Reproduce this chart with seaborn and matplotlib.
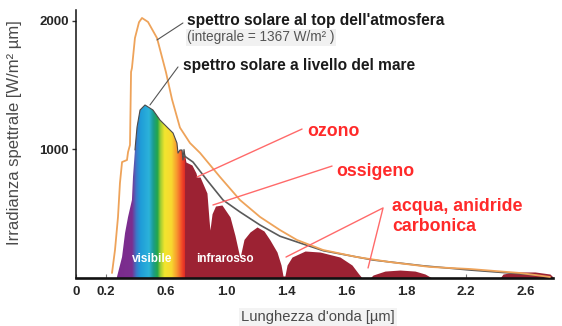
import numpy as np
import pandas as pd
import matplotlib
matplotlib.use("Agg")
import matplotlib.pyplot as plt
from matplotlib.colors import LinearSegmentedColormap
import seaborn as sns

# Top-of-atmosphere solar spectrum (wavelength in µm, irradiance in W/m² µm)
toa_wl = [0.24, 0.26, 0.28, 0.293, 0.307, 0.34, 0.347, 0.36, 0.367, 0.373, 0.393,
          0.42, 0.44, 0.48, 0.54, 0.60, 0.64, 0.693, 0.76, 0.827, 0.96, 1.093,
          1.227, 1.36, 1.473, 1.647, 1.873, 2.093, 2.36, 2.627, 2.96, 3.16]
toa_irr = [39, 218, 475, 739, 902, 918, 980, 1035, 1603, 1634, 1867,
           1990, 2023, 1992, 1867, 1600, 1390, 1170, 1050, 973, 786, 607,
           475, 373, 296, 218, 163, 124, 86, 70, 39, 8]

# Sea-level solar spectrum (absorption bands drop towards zero)
sea_wl = [0.273, 0.307, 0.327, 0.347, 0.373, 0.38, 0.393, 0.407, 0.427, 0.46,
          0.513, 0.56, 0.613, 0.647, 0.673, 0.68, 0.693, 0.707, 0.713, 0.72,
          0.727, 0.733, 0.773, 0.80, 0.807, 0.827, 0.873, 0.887, 0.893, 0.907,
          0.93, 0.973, 1.027, 1.06, 1.093, 1.12, 1.16, 1.207, 1.253, 1.293,
          1.34, 1.367, 1.38, 1.393, 1.407, 1.44, 1.527, 1.627, 1.76, 1.84,
          1.88, 1.907, 1.96, 1.98, 2.06, 2.16, 2.26, 2.327, 2.373, 2.827,
          2.847, 2.927, 3.06, 3.16, 3.18]
sea_irr = [8, 163, 350, 475, 607, 786, 996, 1175, 1307, 1346,
           1307, 1229, 1167, 1128, 1050, 972, 996, 996, 918, 1000,
           940, 902, 879, 817, 785, 786, 661, 450, 373, 500,
           560, 568, 475, 330, 156, 300, 358, 397, 366, 296,
           202, 101, 16, 16, 101, 163, 210, 202, 163, 101,
           39, 0, 0, 23, 54, 62, 54, 31, 0, 0,
           31, 47, 47, 31, 8]

# Smooth envelope drawn just under the top-of-atmosphere curve
env_wl = [0.713, 0.78, 0.873, 0.98, 1.093, 1.227, 1.36, 1.5, 1.65,
          1.98, 2.313, 2.627, 3.073]
env_irr = [957, 902, 762, 607, 514, 412, 325, 270, 212,
           140, 95, 62, 23]

visible_edge = 0.727

# Axis ticks
y_ticks = [1000, 2000]
x_tick_pos = [0, 0.2, 0.6, 1.0, 1.4, 1.8, 2.2, 2.6, 3.0]
x_tick_labels = ["0", "0.2", "0.6", "1.0", "1.4", "1.6", "1.8", "2.2", "2.6"]

sns.set_theme(style="white")
plt.rcParams["font.family"] = ["Liberation Sans", "DejaVu Sans"]

fig = plt.figure(figsize=(5.62, 3.26), dpi=100)
ax = fig.add_axes([76 / 562, 1 - 278 / 326, (553 - 76) / 562, (278 - 10) / 326])

sea = pd.DataFrame({"wl": sea_wl, "irr": sea_irr})
vis = sea[sea.wl <= visible_edge]
ir = sea[sea.wl >= 0.707]

# Infrared part in dark red (starts slightly under the visible part)
ax.fill_between(ir.wl, ir.irr, 0, color="#9c2233", lw=0, zorder=2)

# Visible part painted with a rainbow gradient clipped to the spectrum
rainbow = LinearSegmentedColormap.from_list("vis", [
    (0.00, "#7a2a8c"), (0.24, "#7c2f90"), (0.30, "#3b78c8"), (0.36, "#1f9cd8"),
    (0.48, "#2cb3da"), (0.54, "#1c9c8e"), (0.60, "#22a64a"), (0.64, "#9ccc34"),
    (0.70, "#f2e52e"), (0.80, "#f8d830"), (0.88, "#f7922e"), (0.95, "#f04628"),
    (1.00, "#d82424")])
vis_poly = ax.fill_between(vis.wl, vis.irr, 0, color="none", lw=0, zorder=2)
grad = np.linspace(0, 1, 400).reshape(1, -1)
img = ax.imshow(grad, extent=[0.26, visible_edge, 0, 1400], aspect="auto",
                cmap=rainbow, zorder=2.5, interpolation="bilinear")
img.set_clip_path(vis_poly.get_paths()[0], transform=ax.transData)

# Outline of the visible part
vis_top = vis[vis.wl >= 0.393]
sns.lineplot(x=vis_top.wl.values, y=vis_top.irr.values, ax=ax, color="#4a4a4a",
             lw=0.8, sort=False, zorder=3)

# Envelope and top-of-atmosphere curve
sns.lineplot(x=env_wl, y=env_irr, ax=ax, color="#5a5a5a", lw=1.2, sort=False, zorder=3)
sns.lineplot(x=toa_wl, y=toa_irr, ax=ax, color="#eea35a", lw=1.3, sort=False, zorder=4)

ax.text(0.507, 150, "visibile", color="white", fontsize=8.5, fontweight="bold",
        ha="center", va="center", zorder=5)
ax.text(0.993, 150, "infrarosso", color="white", fontsize=8.5, fontweight="bold",
        ha="center", va="center", zorder=5)

# Curve labels
ax.plot([0.713, 0.54], [1984, 1852], color="#555555", lw=0.8, zorder=5)
ax.text(0.74, 2000, "spettro solare al top dell'atmosfera", fontsize=11.2,
        fontweight="bold", color="#1a1a1a", ha="left", va="center")
ax.text(0.74, 1872, "(integrale = 1367 W/m² )", fontsize=9.8, color="#555555",
        ha="left", va="center",
        bbox=dict(facecolor="#f1f1f1", edgecolor="none", pad=1.0))
ax.plot([0.68, 0.493], [1642, 1346], color="#555555", lw=0.8, zorder=5)
ax.text(0.713, 1657, "spettro solare a livello del mare", fontsize=11.2,
        fontweight="bold", color="#1a1a1a", ha="left", va="center")

# Absorbers
red = "#ff2a2a"
line_red = "#ff6a6a"
ax.plot([1.507, 0.807], [1159, 786], color=line_red, lw=1.0, zorder=5)
ax.text(1.54, 1136, "ozono", fontsize=12.8, fontweight="bold", color=red,
        ha="left", va="center")
ax.plot([1.707, 0.913], [871, 568], color=line_red, lw=1.0, zorder=5)
ax.text(1.733, 832, "ossigeno", fontsize=12.8, fontweight="bold", color=red,
        ha="left", va="center")
ax.plot([1.40, 2.047, 1.947], [163, 545, 78], color=line_red, lw=1.0, zorder=5)
ax.text(2.107, 560, "acqua, anidride", fontsize=12.8, fontweight="bold", color=red,
        ha="left", va="center")
ax.text(2.107, 397, "carbonica", fontsize=12.8, fontweight="bold", color=red,
        ha="left", va="center")

ax.set_xlim(0, (553 - 76) / 150)
ax.set_ylim(0, (278 - 10) * 7.78)
ax.set_xlabel("")
ax.set_ylabel("")
ax.set_yticks(y_ticks)
ax.set_yticklabels([str(v) for v in y_ticks], fontsize=9.5, fontweight="bold")
ax.set_xticks(x_tick_pos)
ax.set_xticklabels(x_tick_labels, fontsize=9.5, fontweight="bold")
ax.tick_params(axis="y", direction="out", length=3, width=1, color="#333333",
               pad=2, left=True)
ax.tick_params(axis="x", direction="in", length=3, width=0.8, color="#777777",
               pad=6, bottom=True)

for side in ["top", "right"]:
    ax.spines[side].set_visible(False)
ax.spines["left"].set_color("#111111")
ax.spines["left"].set_linewidth(1.1)
ax.spines["bottom"].set_color("#111111")
ax.spines["bottom"].set_linewidth(1.9)

fig.text(318 / 562, 1 - 317 / 326, "Lunghezza d'onda [µm]", fontsize=10.6,
         color="#4a4a4a", ha="center", va="center",
         bbox=dict(facecolor="#f3f3f3", edgecolor="none", pad=1.5))
fig.text(15 / 562, 1 - 133 / 326, "Irradianza spettrale [W/m² µm]", fontsize=12,
         color="#4a4a4a", ha="center", va="center", rotation=90)

fig.savefig("out.png", dpi=100)
